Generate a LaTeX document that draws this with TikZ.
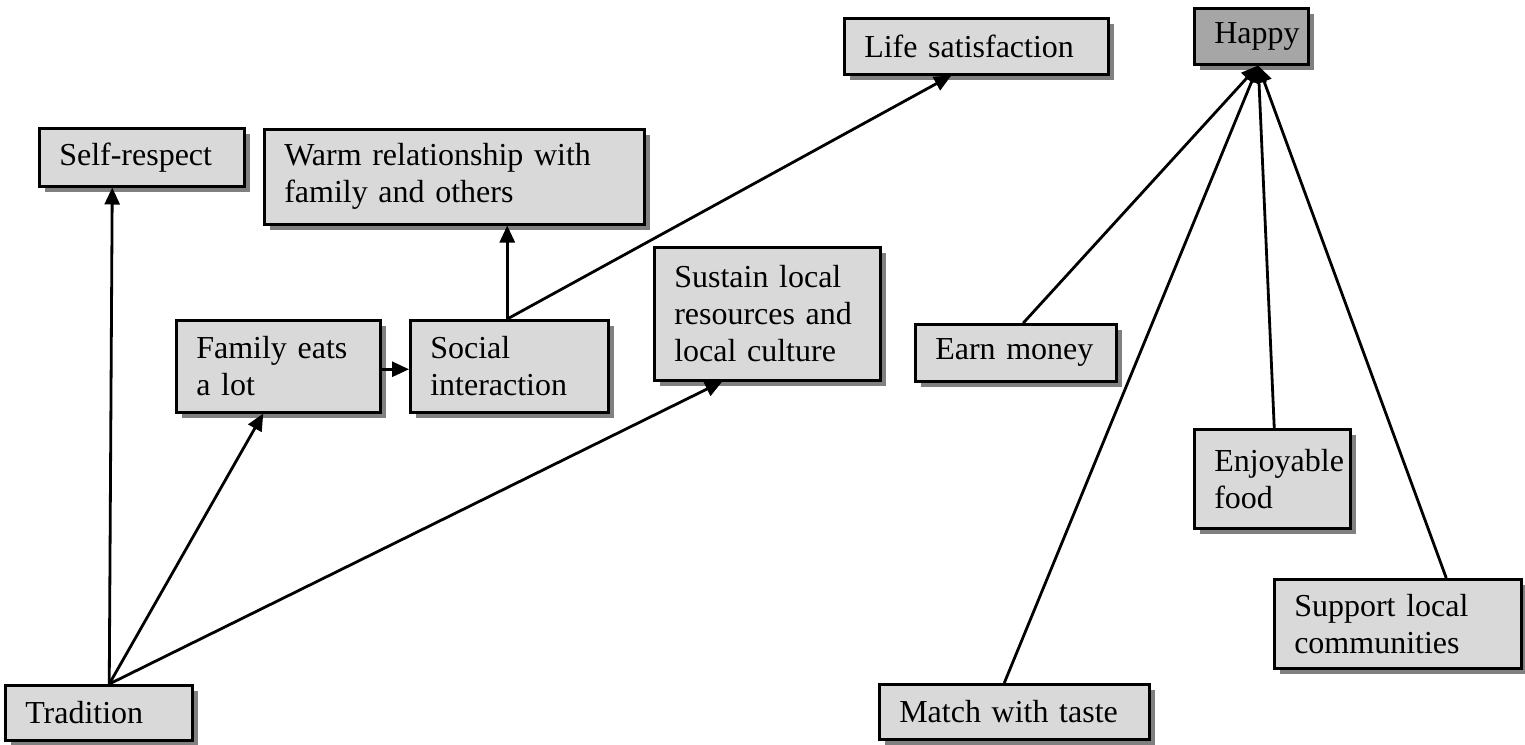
\documentclass[tikz,border=0pt]{standalone}
\usepackage{fontspec}
\setmainfont{Liberation Serif}
\usetikzlibrary{arrows.meta,shadows}
\definecolor{boxfill}{HTML}{D9D9D9}
\definecolor{happyfill}{HTML}{A6A6A6}
\definecolor{shade}{HTML}{808080}
\hfuzz=30pt
\begin{document}
\begin{tikzpicture}[x=1pt,y=-1pt,
  concept/.style={draw=black, line width=2.5pt, fill=boxfill, anchor=north west,
    inner xsep=20pt, inner ysep=0pt, align=left,
    font=\fontsize{32}{37}\selectfont,
    drop shadow={shadow xshift=6pt, shadow yshift=-6pt, fill=shade, opacity=1}},
  link/.style={line width=2.8pt, -{Triangle[length=17pt,width=15pt]}},
]
\useasboundingbox[fill=white] (0,0) rectangle (1525,744);

% concept boxes
\node[concept, text width=165pt, minimum height=58pt] (self) at (38,127) {Self-respect};
\node[concept, text width=340pt, minimum height=95pt] (warm) at (263,128) {Warm relationship with\\family and others};
\node[concept, text width=224pt, minimum height=56pt] (life) at (843,17) {Life satisfaction};
\node[concept, fill=happyfill, text width=74pt, minimum height=56pt] (happy) at (1193,7) {Happy};
\node[concept, text width=164pt, minimum height=92pt] (family) at (175,319) {Family eats\\a lot};
\node[concept, text width=158pt, minimum height=92pt] (social) at (409,319) {Social\\interaction};
\node[concept, text width=186pt, minimum height=133pt] (sustain) at (653,246) {Sustain local\\resources and\\local culture};
\node[concept, text width=161pt, minimum height=57pt] (earn) at (914,323) {Earn money};
\node[concept, text width=116pt, minimum height=99pt] (enjoy) at (1193,428) {Enjoyable\\food};
\node[concept, text width=230pt, minimum height=55pt] (match) at (878,683) {Match with taste};
\node[concept, text width=207pt, minimum height=89pt] (support) at (1273,578) {Support local\\communities};
\node[concept, text width=147pt, minimum height=55pt] (trad) at (4,684) {Tradition};

% links out of Tradition
\coordinate (tradtop) at ([xshift=10.5pt]trad.north);
\draw[link] (tradtop) -- ([xshift=-29.5pt]self.south);
\draw[link] (tradtop) -- ([xshift=-15pt]family.south);
\draw[link] (tradtop) -- ([xshift=-45pt]sustain.south);

% family meals and social life
\draw[link] ([yshift=-3pt]family.east) -- ([yshift=-3pt]social.west);
\coordinate (socialtop) at ([xshift=-2pt]social.north);
\draw[link] (socialtop) -- (socialtop |- warm.south);
\draw[link] (socialtop) -- ([xshift=-25pt]life.south);

% what makes people happy
\coordinate (happyin) at ([xshift=7pt]happy.south);
\draw[link] ([xshift=7.5pt]earn.north) -- (happyin);
\draw[link] ([xshift=-10pt]match.north) -- (happyin);
\draw[link] ([xshift=2pt]enjoy.north) -- (happyin);
\draw[link] ([xshift=48.5pt]support.north) -- (happyin);
\end{tikzpicture}
\end{document}
